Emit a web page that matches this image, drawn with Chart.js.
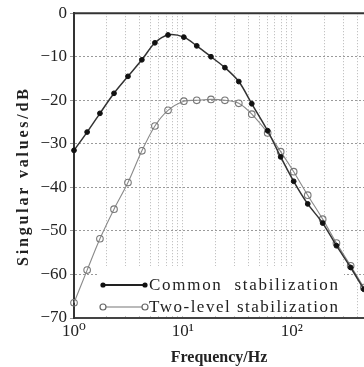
<!DOCTYPE html>
<html>
<head>
<meta charset="utf-8">
<script src="https://cdn.jsdelivr.net/npm/chart.js@4.4.1/dist/chart.umd.min.js"></script>
<style>
  html, body { margin: 0; padding: 0; background: #fff; }
  #wrap { width: 364px; height: 367px; }
</style>
</head>
<body>
<div id="wrap"><canvas id="sv"></canvas></div>
<script>
// frecuencias (Hz)
const freqs = [1, 1.32, 1.73, 2.33, 3.13, 4.2, 5.53, 7.3, 10.2, 13.4, 18.1, 24.3,
               32.6, 42.9, 60, 79, 104, 140, 192, 257, 347, 458];
// valores singulares en dB
const commonVals = [-31.5, -27.3, -23.0, -18.4, -14.5, -10.7, -6.8, -5.0, -5.5, -7.5, -10.0, -12.5,
                    -15.7, -20.8, -27.0, -33.0, -38.6, -43.8, -48.2, -53.4, -58.4, -63.4];
const twoLevelVals = [-66.5, -59.0, -51.8, -45.0, -38.9, -31.6, -25.9, -22.3, -20.2, -20.0, -19.8, -20.0,
                      -20.7, -23.2, -27.5, -31.8, -36.4, -41.8, -47.3, -52.8, -58.0, -63.0];
const seriesNames = ['Common  stabilization', 'Two-level stabilization'];
const yTicks = [0, -10, -20, -30, -40, -50, -60, -70];
const xMajor = { 1: '10\u2070', 10: '10\u00b9', 100: '10\u00b2' };
const yTitle = 'Singular values/dB';

const serif = '"Liberation Serif", "DejaVu Serif", serif';

// lineas de la cuadricula en cada decada
const xGrid = [];
[1, 10, 100].forEach(d => {
    for (let k = 1; k <= 9; k++) {
        if (d * k <= 460) xGrid.push(d * k);
    }
});

const toPts = vals => freqs.map((f, i) => ({ x: f, y: vals[i] }));

// texto con espaciado para ocupar un ancho dado
function spacedText(ctx, txt, x, y, target) {
    ctx.letterSpacing = '0px';
    const w = ctx.measureText(txt).width;
    const sp = Math.max(0, (target - w) / (txt.length - 1));
    ctx.letterSpacing = sp.toFixed(2) + 'px';
    ctx.fillText(txt, x, y);
    ctx.letterSpacing = '0px';
}

// marco superior, titulo Y y leyenda dibujados a mano
const extras = {
    id: 'extras',
    beforeDatasetsDraw(chart) {
        const ctx = chart.ctx;
        ctx.save();
        ctx.fillStyle = '#fff';
        ctx.fillRect(98, 266, 246, 50);
        ctx.restore();
    },
    afterDraw(chart) {
        const ctx = chart.ctx;
        const a = chart.chartArea;
        ctx.save();
        ctx.strokeStyle = '#333';
        ctx.lineWidth = 2;
        ctx.beginPath();
        ctx.moveTo(a.left, a.top);
        ctx.lineTo(a.right, a.top);
        ctx.stroke();

        // titulo del eje Y
        ctx.save();
        ctx.translate(24, 178);
        ctx.rotate(-Math.PI / 2);
        ctx.fillStyle = '#222';
        ctx.font = 'bold 16px ' + serif;
        ctx.textBaseline = 'middle';
        spacedText(ctx, yTitle, -88, 0, 177);
        ctx.restore();

        const rows = [
            { y: 285, name: seriesNames[0], line: '#222', filled: true },
            { y: 307, name: seriesNames[1], line: '#777', filled: false }
        ];
        rows.forEach(r => {
            ctx.strokeStyle = r.line;
            ctx.lineWidth = r.filled ? 2 : 1.2;
            ctx.beginPath();
            ctx.moveTo(103, r.y);
            ctx.lineTo(145, r.y);
            ctx.stroke();
            [103, 145].forEach(px => {
                ctx.beginPath();
                if (r.filled) {
                    ctx.fillStyle = '#111';
                    ctx.arc(px, r.y, 2.6, 0, Math.PI * 2);
                    ctx.fill();
                } else {
                    ctx.fillStyle = '#fff';
                    ctx.strokeStyle = '#666';
                    ctx.lineWidth = 1.2;
                    ctx.arc(px, r.y, 3.0, 0, Math.PI * 2);
                    ctx.fill();
                    ctx.stroke();
                }
            });
            ctx.fillStyle = '#222';
            ctx.font = '17px ' + serif;
            ctx.textBaseline = 'middle';
            spacedText(ctx, r.name, 149, r.y + 1, 189);
        });
        ctx.restore();
    }
};

new Chart(document.getElementById('sv').getContext('2d'), {
    type: 'line',
    data: {
        datasets: [
            {
                label: seriesNames[0],
                data: toPts(commonVals),
                borderColor: '#333',
                borderWidth: 1.5,
                pointRadius: 2.4,
                pointBackgroundColor: '#111',
                pointBorderColor: '#111',
                pointBorderWidth: 1,
                fill: false,
                tension: 0.3
            },
            {
                label: seriesNames[1],
                data: toPts(twoLevelVals),
                borderColor: '#8a8a8a',
                borderWidth: 1.1,
                pointRadius: 3.3,
                pointBackgroundColor: 'rgba(255,255,255,0)',
                pointBorderColor: '#777',
                pointBorderWidth: 1.1,
                fill: false,
                tension: 0.3
            }
        ]
    },
    options: {
        responsive: true,
        maintainAspectRatio: false,
        animation: false,
        clip: false,
        layout: { autoPadding: false, padding: { top: 5, right: 0, left: 0, bottom: 0 } },
        plugins: {
            legend: { display: false },
            tooltip: { enabled: false }
        },
        scales: {
            x: {
                type: 'logarithmic',
                min: 1,
                max: 460,
                afterBuildTicks: scale => {
                    scale.ticks = xGrid.map(v => ({ value: v, major: !!xMajor[v] }));
                },
                afterFit: scale => {
                    scale.height = 49;
                    scale.paddingRight = 0;
                },
                ticks: {
                    autoSkip: false,
                    maxRotation: 0,
                    color: '#222',
                    padding: 3,
                    font: { family: serif, size: 17 },
                    callback: v => xMajor[v] || ''
                },
                grid: {
                    color: '#b5b5b5',
                    lineWidth: 1,
                    drawTicks: false
                },
                border: { display: true, color: '#444', width: 2, dash: [1, 2] },
                title: {
                    display: true,
                    text: 'Frequency/Hz',
                    color: '#222',
                    padding: { top: 2, bottom: 0 },
                    font: { family: serif, size: 16, weight: 'bold' }
                }
            },
            y: {
                min: -70,
                max: 0,
                afterBuildTicks: scale => {
                    scale.ticks = yTicks.map(v => ({ value: v }));
                },
                afterFit: scale => { scale.width = 74; },
                ticks: {
                    color: '#222',
                    padding: 3,
                    font: { family: serif, size: 17 },
                    callback: v => (v < 0 ? '\u2212' + Math.abs(v) : String(v))
                },
                grid: {
                    color: '#9a9a9a',
                    lineWidth: 1,
                    tickLength: 4
                },
                border: { display: true, color: '#333', width: 2, dash: [2, 2] }
            }
        }
    },
    plugins: [extras]
});
</script>
</body>
</html>
